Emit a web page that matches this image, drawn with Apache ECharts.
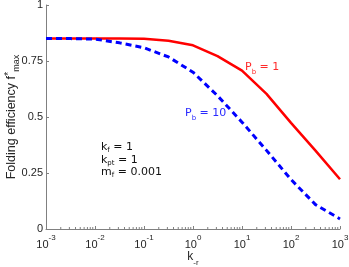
<!DOCTYPE html>
<html>
<head>
<meta charset="utf-8">
<script src="https://cdn.jsdelivr.net/npm/echarts@6/dist/echarts.min.js"></script>
<style>html,body{margin:0;padding:0;background:#fff}#c{width:349px;height:267px}</style>
</head>
<body>
<div id="c"></div>
<script>
const kValues = [0.001, 0.003162, 0.01, 0.03162, 0.1, 0.3162, 1, 3.162, 10, 31.62, 100, 316.2, 1000];
const pb1Values = [0.85, 0.85, 0.85, 0.85, 0.849, 0.84, 0.82, 0.772, 0.707, 0.603, 0.474, 0.35, 0.222];
const pb10Values = [0.85, 0.85, 0.848, 0.831, 0.809, 0.768, 0.70, 0.595, 0.477, 0.351, 0.221, 0.109, 0.045];
const yTicks = [0, 0.25, 0.5, 0.75, 1];
const minorTickValues = [];
for (let d = -3; d < 3; d++) { for (let m = 2; m <= 9; m++) minorTickValues.push(m * Math.pow(10, d)); }

const chart = echarts.init(document.getElementById('c'), null, {renderer: 'canvas'});
const axisColor = '#808080';
const textColor = '#262626';
const tickFont = 'Liberation Sans';
const annFont = 'DejaVu Sans';

const pair = (xs, ys) => xs.map((x, i) => [x, ys[i]]);

chart.setOption({
  animation: false,
  backgroundColor: '#fff',
  grid: {left: 46, right: 9, top: 5, bottom: 38, containLabel: false, outerBoundsMode: 'none'},
  xAxis: {
    type: 'log', logBase: 10, min: 0.001, max: 1000,
    axisLine: {show: true, lineStyle: {color: axisColor, width: 1}},
    axisTick: {show: true, inside: true, length: 3, lineStyle: {color: axisColor}},
    minorTick: {show: false},
    splitLine: {show: false},
    axisLabel: {
      margin: 5,
      formatter: v => '{b|10}{s|' + Math.round(Math.log10(v)) + '}',
      rich: {
        b: {fontFamily: tickFont, fontSize: 11, color: textColor, lineHeight: 16, verticalAlign: 'bottom'},
        s: {fontFamily: tickFont, fontSize: 8, color: textColor, lineHeight: 16, verticalAlign: 'top'}
      }
    },
    name: '{b|k}{s|-r}',
    nameLocation: 'middle',
    nameGap: 22,
    nameMoveOverlap: false,
    nameTextStyle: {
      rich: {
        b: {fontFamily: tickFont, fontSize: 12, color: textColor, lineHeight: 16, verticalAlign: 'top'},
        s: {fontFamily: tickFont, fontSize: 8, color: textColor, lineHeight: 16, verticalAlign: 'bottom'}
      }
    }
  },
  yAxis: {
    type: 'value', min: 0, max: 1, interval: 0.25,
    axisLine: {show: true, lineStyle: {color: axisColor, width: 1}},
    axisTick: {show: true, inside: true, length: 3, lineStyle: {color: axisColor}},
    splitLine: {show: false},
    axisLabel: {
      margin: 3, fontFamily: tickFont, fontSize: 11, color: textColor,
      formatter: v => String(v)
    },
    name: '{b|Folding efficiency f}{s|*}{m|max}',
    nameLocation: 'middle',
    nameRotate: 90,
    nameGap: 25,
    nameMoveOverlap: false,
    nameTextStyle: {
      rich: {
        b: {fontFamily: tickFont, fontSize: 12.5, color: textColor, lineHeight: 18, verticalAlign: 'middle'},
        s: {fontFamily: tickFont, fontSize: 11, color: textColor, lineHeight: 18, verticalAlign: 'top'},
        m: {fontFamily: tickFont, fontSize: 9, color: textColor, lineHeight: 18, verticalAlign: 'bottom'}
      }
    }
  },
  series: [
    {
      type: 'custom',
      silent: true,
      z: 1,
      data: minorTickValues.map(v => [v, 0]),
      renderItem: (params, api) => {
        const p = api.coord([api.value(0), 0]);
        return {type: 'line', shape: {x1: p[0], y1: p[1], x2: p[0], y2: p[1] - 2}, style: {stroke: axisColor, lineWidth: 1}};
      }
    },
    {
      type: 'line', name: 'Pb = 1', data: pair(kValues, pb1Values),
      showSymbol: false, symbol: 'none', z: 3,
      lineStyle: {color: '#ff0000', width: 2.5, type: 'solid'}
    },
    {
      type: 'line', name: 'Pb = 10', data: pair(kValues, pb10Values),
      showSymbol: false, symbol: 'none', z: 4,
      lineStyle: {color: '#0000ff', width: 3, type: [6, 4]}
    }
  ],
  graphic: [
    {type: 'text', left: 245, top: 62, style: {text: '{a|P}{s|b}{a| = 1}', rich: {
      a: {fontFamily: annFont, fontSize: 11, fill: '#ff2a2a', lineHeight: 16, verticalAlign: 'middle'},
      s: {fontFamily: annFont, fontSize: 7, fill: '#ff2a2a', lineHeight: 16, verticalAlign: 'bottom'}}}},
    {type: 'text', left: 185, top: 108, style: {text: '{a|P}{s|b}{a| = 10}', rich: {
      a: {fontFamily: annFont, fontSize: 11, fill: '#2a2aff', lineHeight: 16, verticalAlign: 'middle'},
      s: {fontFamily: annFont, fontSize: 7, fill: '#2a2aff', lineHeight: 16, verticalAlign: 'bottom'}}}},
    {type: 'text', left: 101, top: 142, style: {text: '{a|k}{s|f}{a| = 1}\n{a|k}{s|pt}{a| = 1}\n{a|m}{s|f}{a| = 0.001}', rich: {
      a: {fontFamily: annFont, fontSize: 11, fill: '#111', lineHeight: 12.5, verticalAlign: 'middle'},
      s: {fontFamily: annFont, fontSize: 7, fill: '#111', lineHeight: 12.5, verticalAlign: 'bottom'}}}}
  ]
});
</script>
</body>
</html>
